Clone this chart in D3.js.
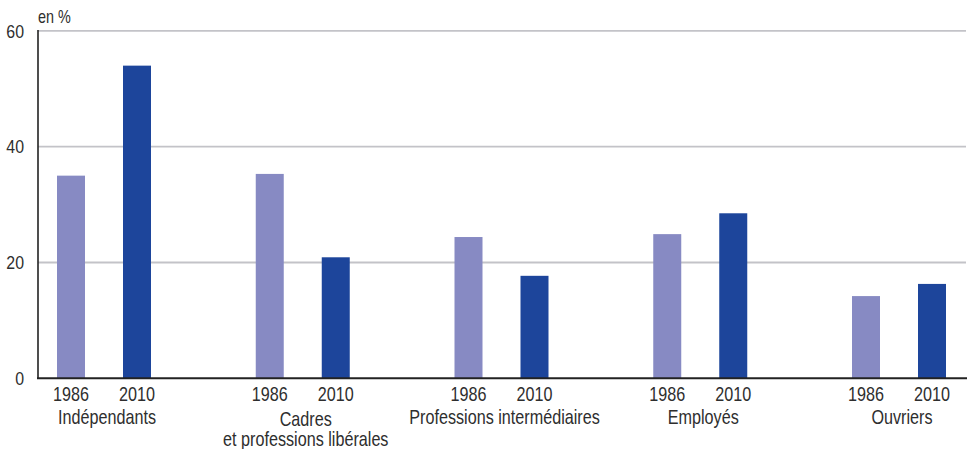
<!DOCTYPE html>
<html><head><meta charset="utf-8">
<script src="https://cdn.jsdelivr.net/npm/d3@7"></script>
<style>
html,body{margin:0;padding:0;background:#fff;}
svg{display:block;}
text{font-family:"Liberation Sans",Arial,sans-serif;fill:#2e2e2e;}
</style></head>
<body>
<svg id="chart" width="968" height="449"></svg>
<script>
const categories = [["Indépendants"], ["Cadres", "et professions libérales"], ["Professions intermédiaires"], ["Employés"], ["Ouvriers"]];
const years = ["1986", "2010"];
const values1986 = [35, 35.3, 24.4, 24.9, 14.2];
const values2010 = [54, 20.9, 17.7, 28.5, 16.3];
const yTicks = [0, 20, 40, 60];
const yUnit = "en %";
const colors = ["#878ac3", "#1d459b"];

(function () {
const svg = d3.select("#chart");
const pLeft = 38, pRight = 967, pTop = 30.9, pBottom = 378.3;
const keys = categories.map(c => c.join(" "));
const x = d3.scalePoint().domain(keys).range([104, 899]);
const xs = d3.scalePoint().domain(years).range([-33, 33]);
const barW = 28;
const y = d3.scaleLinear().domain([0, 60]).range([pBottom, pTop]);

function label(g, tx, ty, str, size, sx, anchor, dy) {
  return g.append("text")
    .attr("transform", `translate(${tx},${ty}) scale(${sx},1)`)
    .attr("text-anchor", anchor || "middle")
    .attr("dy", dy || null)
    .style("font-size", size + "px")
    .text(str);
}

// gridlines
svg.append("g").selectAll("line").data(yTicks.filter(d => d > 0)).join("line")
  .attr("x1", pLeft).attr("x2", pRight - 1)
  .attr("y1", d => y(d)).attr("y2", d => y(d))
  .attr("stroke", "#c3c3c8").attr("stroke-width", 1.8);

// y tick labels
const gy = svg.append("g");
yTicks.forEach(t => label(gy, 24, y(t), String(t), 18.5, 0.86, "end", "0.36em"));

label(svg.append("g"), 38, 23, yUnit, 18, 0.8, "start");

// bars
const series = [values1986, values2010];
const gb = svg.append("g"), gt = svg.append("g");
keys.forEach((k, i) => {
  years.forEach((yr, j) => {
    const v = series[j][i];
    gb.append("rect")
      .attr("x", x(k) + xs(yr) - barW / 2)
      .attr("y", y(v))
      .attr("width", barW)
      .attr("height", y(0) - y(v))
      .attr("fill", colors[j]);
    label(gt, x(k) + xs(yr), 401, yr, 19.5, 0.83);
  });
  const lines = categories[i];
  lines.forEach((ln, li) => {
    label(gt, x(k) + 3, (lines.length > 1 ? 425.5 : 424) + li * 20.5, ln, 19.5, 0.83);
  });
});

// axes lines
svg.append("line").attr("x1", pLeft).attr("x2", pLeft).attr("y1", pTop - 1).attr("y2", pBottom)
  .attr("stroke", "#222").attr("stroke-width", 1.6);
svg.append("line").attr("x1", pLeft - 1).attr("x2", pRight).attr("y1", pBottom).attr("y2", pBottom)
  .attr("stroke", "#222").attr("stroke-width", 2);
})();
</script>
</body></html>
